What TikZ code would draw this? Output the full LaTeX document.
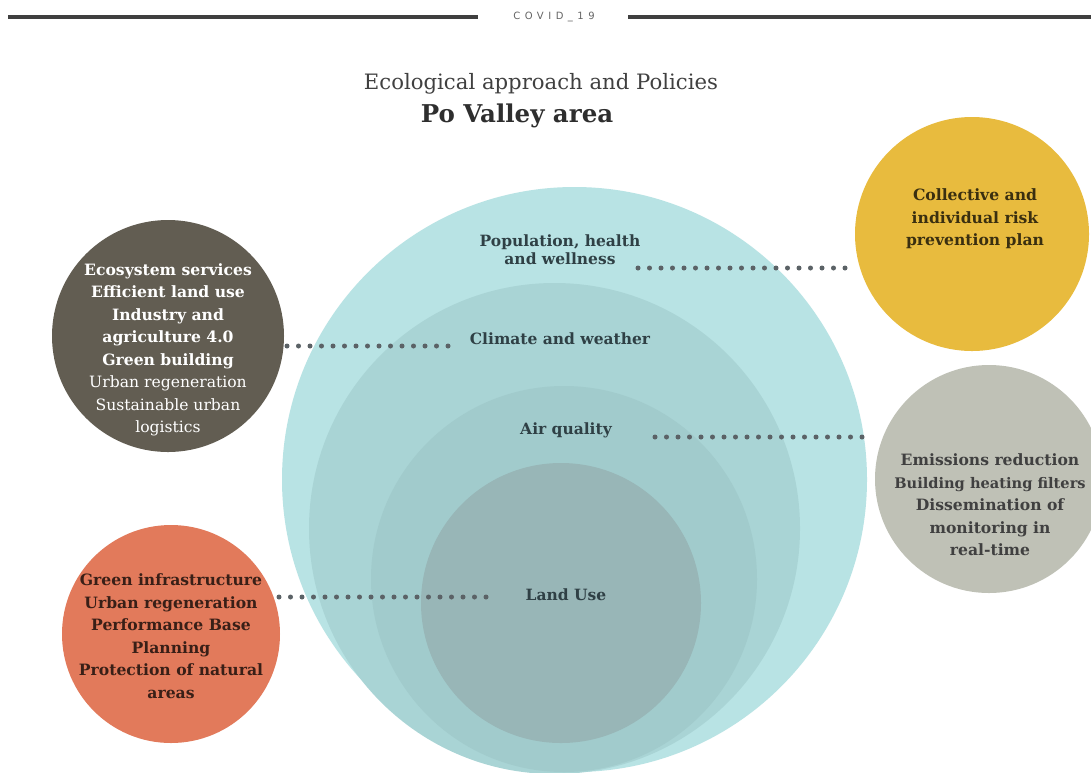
\documentclass[tikz,border=0pt]{standalone}
\usepackage{fontspec}
\setmainfont{DejaVu Serif}
\newfontfamily\hdrfont[LetterSpace=45]{DejaVu Sans}
\definecolor{ring1}{HTML}{B8E3E4}
\definecolor{ring2}{HTML}{A9D4D5}
\definecolor{ring3}{HTML}{A1CBCC}
\definecolor{ring4}{HTML}{98B6B7}
\definecolor{darkc}{HTML}{625D52}
\definecolor{orangec}{HTML}{E27A5B}
\definecolor{yellowc}{HTML}{E8BB3E}
\definecolor{grayc}{HTML}{BFC1B6}
\definecolor{dotc}{HTML}{5B6266}
\definecolor{labc}{HTML}{2F4045}
\definecolor{rulec}{HTML}{3F3F3F}
\tikzset{
  ring/.style={circle, inner sep=0pt, draw=none},
  side/.style={circle, inner sep=0pt, draw=none},
  sidetext/.style={align=center, font=\fontsize{15.6}{22.5}\selectfont},
  sidebold/.style={align=center, font=\bfseries\fontsize{15.6}{22.5}\selectfont},
  lab/.style={align=center, text=labc, font=\bfseries\fontsize{15.5}{18}\selectfont, inner sep=0pt},
  dotline/.style={dotc, line width=5pt, line cap=round, dash pattern=on 0pt off 11.5pt},
  rulestyle/.style={rulec, line width=4pt}
}
\begin{document}
\begin{tikzpicture}[x=1pt,y=-1pt]
\useasboundingbox (0,0) rectangle (1091,772);
\fill[white] (0,0) rectangle (1091,772);
% header
\node (hdr) at (554,17) {\hdrfont\fontsize{10}{11}\selectfont\color{rulec!80}COVID\_19};
\coordinate (hl1) at (8,17);
\coordinate (hl2) at (478,17);
\coordinate (hr1) at (628,17);
\coordinate (hr2) at (1091,17);
\draw[rulestyle] (hl1) -- (hl2);
\draw[rulestyle] (hr1) -- (hr2);
% title
\node[text=black!75, font=\fontsize{21.2}{24}\selectfont] (t1) at (541,84) {Ecological approach and Policies};
\node[text=black!82, font=\bfseries\fontsize{24.5}{26}\selectfont] (t2) at (517,116) {Po Valley area};
% nested circles
\node[ring, fill=ring1, minimum size=585pt] (c1) at (574.5,479.5) {};
\node[ring, fill=ring2, minimum size=491pt] (c2) at (554.5,528.5) {};
\node[ring, fill=ring3, minimum size=386pt] (c3) at (564,579) {};
\node[ring, fill=ring4, minimum size=280pt] (c4) at (561,603) {};
% side circles
\node[side, fill=darkc, minimum size=232pt] (dark) at (168,336) {};
\node[side, fill=orangec, minimum size=218pt] (orange) at (171,634) {};
\node[side, fill=yellowc, minimum size=234pt] (yellow) at (972,234) {};
\node[side, fill=grayc, minimum size=228pt] (gray) at (989,479) {};
% side texts
\node[sidetext, text=white] (darkt) at (168,350)
 {\textbf{Ecosystem services}\\\textbf{Efficient land use}\\\textbf{Industry and}\\\textbf{agriculture 4.0}\\\textbf{Green building}\\Urban regeneration\\Sustainable urban\\logistics};
\node[sidebold, text=black!75!orangec] (oranget) at (171,636)
 {Green infrastructure\\Urban regeneration\\Performance Base\\Planning\\Protection of natural\\areas};
\node[sidebold, text=black!75!yellowc] (yellowt) at (975,219)
 {Collective and\\individual risk\\prevention plan};
\node[sidebold, text=black!75] (grayt) at (990,505)
 {Emissions reduction\\{\fontsize{14.6}{22.5}\selectfont Building heating filters}\\Dissemination of\\monitoring in\\real-time};
% labels
\node[lab] (lpop) at (560,250) {Population, health\\and wellness};
\node[lab] (lclim) at (560,339) {Climate and weather};
\node[lab] (lair) at (566,430) {Air quality};
\node[lab] (lland) at (566,595) {Land Use};
% connectors
\coordinate (p1) at (638,268);
\coordinate (p2) at (855,268);
\coordinate (q1) at (287,346);
\coordinate (q2) at (455,346);
\coordinate (r1) at (655,437);
\coordinate (r2) at (871,437);
\coordinate (s1) at (279,597);
\coordinate (s2) at (497,597);
\draw[dotline] (p1) -- (p2);
\draw[dotline] (q1) -- (q2);
\draw[dotline] (r1) -- (r2);
\draw[dotline] (s1) -- (s2);
\end{tikzpicture}
\end{document}
